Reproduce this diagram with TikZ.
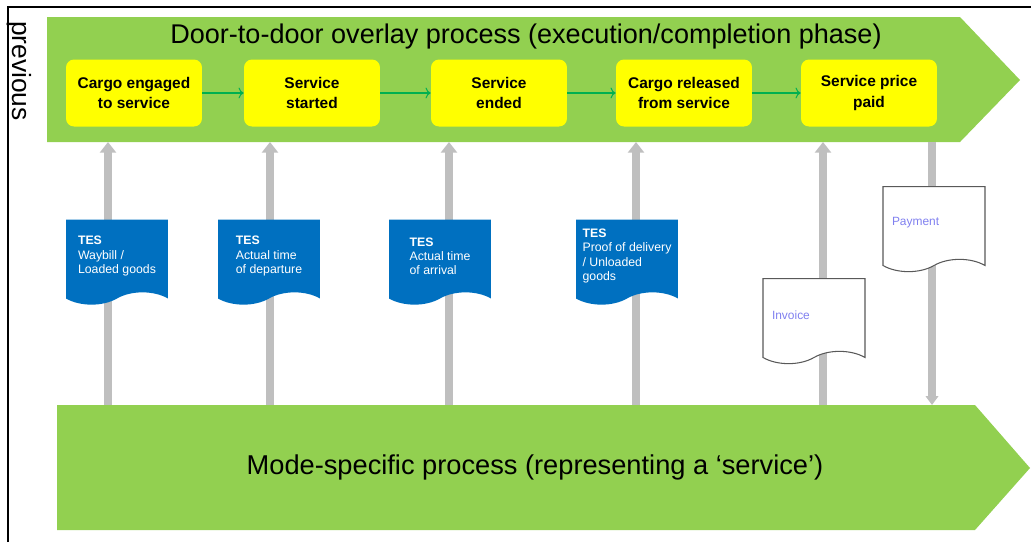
\documentclass[tikz,border=0pt]{standalone}
\usepackage{fontspec}
\setmainfont{Liberation Sans}
\usetikzlibrary{arrows.meta,shapes.symbols}

\definecolor{chevgreen}{RGB}{146,208,80}
\definecolor{stepyellow}{RGB}{255,255,0}
\definecolor{tesblue}{RGB}{0,112,192}
\definecolor{feedgray}{RGB}{191,191,191}
\definecolor{flowgreen}{RGB}{0,176,80}
\definecolor{paperink}{RGB}{128,128,240}

\begin{document}
\begin{tikzpicture}[x=0.02cm, y=-0.02cm,
    event/.style={fill=stepyellow, rounded corners=0.16cm, minimum width=2.72cm, minimum height=1.34cm, align=center, font=\fontsize{8.8}{11.5}\selectfont\bfseries},
    flow/.style={->, flowgreen, line width=0.6pt},
    feed/.style={line width=4pt, draw=feedgray, -{Triangle[width=9pt,length=6pt]}},
    tes/.style={shape=tape, tape bend top=none, tape bend bottom=in and out, tape bend height=7pt, fill=tesblue, text=white, minimum width=2.04cm, minimum height=1.7cm, align=left, font=\fontsize{7}{8}\selectfont},
    paper/.style={shape=tape, tape bend top=none, tape bend bottom=in and out, tape bend height=7pt, draw=black!65, line width=0.6pt, fill=white, text=paperink, text width=1.68cm, inner xsep=0.18cm, minimum height=1.7cm, align=left, font=\fontsize{6.8}{8}\selectfont}]
    \useasboundingbox (0,0) rectangle (1031,542);

    % frame
    \draw[line width=0.8pt] (8,542) -- (8,7) -- (1031,7);

    % the two process chevrons
    \fill[chevgreen] (47,17) -- (960,17) -- (1020,80) -- (960,142) -- (47,142) -- cycle;
    \fill[chevgreen] (57,405) -- (975,405) -- (1030,468) -- (975,530) -- (57,530) -- cycle;
    \coordinate (upperS) at (0,142);
    \coordinate (lowerN) at (0,405);

    \node[rotate=-90, font=\fontsize{15}{18}\selectfont] (prev) at (19,71) {previous};
    \node[font=\fontsize{15.4}{18}\selectfont] (title) at (526,36) {Door-to-door overlay process (execution/completion phase)};
    \node[font=\fontsize{15.5}{18}\selectfont] (mode) at (535,467) {Mode-specific process (representing a `service')};

    % events
    \node[event] (b1) at (134,93) {Cargo engaged\\to service};
    \node[event] (b2) at (312,93) {Service\\started};
    \node[event] (b3) at (499,93) {Service\\ended};
    \node[event] (b4) at (684,93) {Cargo released\\from service};
    \node[event] (b5) at (869,93) {Service price\\paid};

    \draw[flow] (b1) -- (b2);
    \draw[flow] (b2) -- (b3);
    \draw[flow] (b3) -- (b4);
    \draw[flow] (b4) -- (b5);

    % messages between the two processes
    \coordinate (f1) at (108,405);
    \coordinate (f2) at (270,405);
    \coordinate (f3) at (449,405);
    \coordinate (f4) at (636,405);
    \coordinate (f5) at (823,405);
    \coordinate (f6) at (932,142);
    \draw[feed] (f1) -- (f1 |- upperS);
    \draw[feed] (f2) -- (f2 |- upperS);
    \draw[feed] (f3) -- (f3 |- upperS);
    \draw[feed] (f4) -- (f4 |- upperS);
    \draw[feed] (f5) -- (f5 |- upperS);
    \draw[feed, -{Triangle[width=7pt,length=5pt]}] (f6) -- (f6 |- lowerN);

    % documents
    \node[tes] (waybill) at (117,256) {\textbf{TES}\\Waybill /\\Loaded goods};
    \node[tes] (departure) at (269,256) {\textbf{TES}\\Actual time\\of departure};
    \node[tes] (arrival) at (440,256) {\textbf{TES}\\Actual time\\of arrival};
    \node[tes] (delivery) at (627,256) {\textbf{TES}\\Proof of delivery\\/ Unloaded\\goods};
    \node[paper] (invoice) at (814,315) {Invoice};
    \node[paper] (payment) at (934,223) {Payment};

\end{tikzpicture}
\end{document}
